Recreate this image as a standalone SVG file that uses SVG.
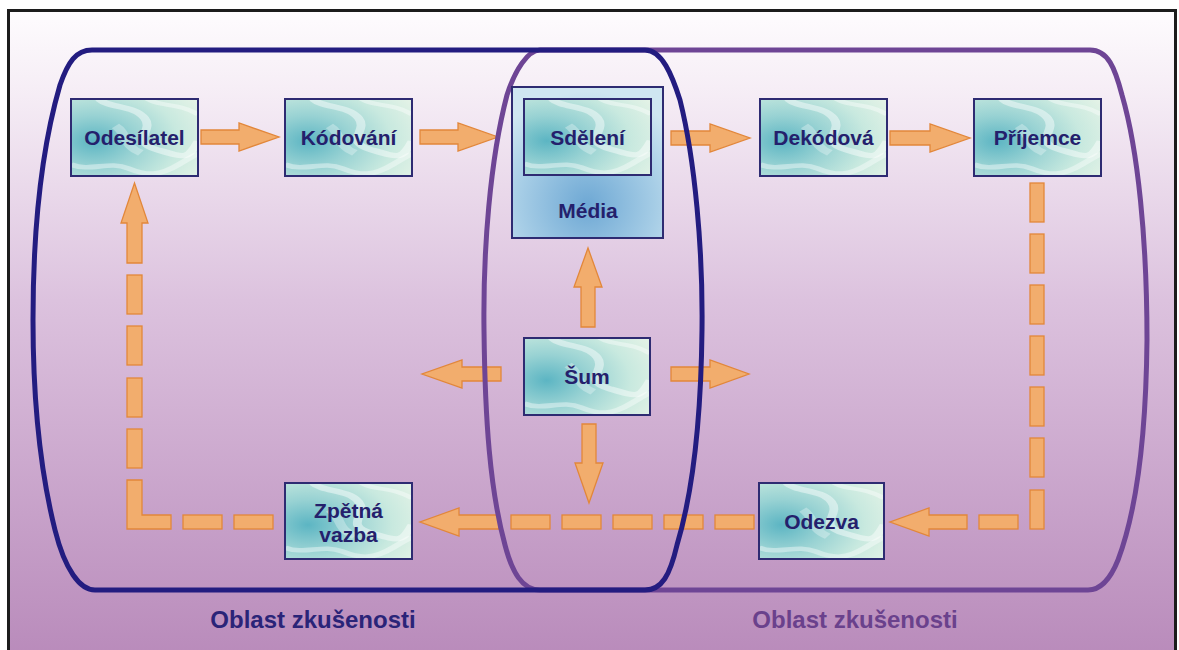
<svg xmlns="http://www.w3.org/2000/svg" width="1179" height="650" viewBox="0 0 1179 650">
  <defs>
    <linearGradient id="bg" x1="0" y1="0" x2="0" y2="1">
      <stop offset="0" stop-color="#fefcfe"/>
      <stop offset="0.12" stop-color="#f6eef6"/>
      <stop offset="0.45" stop-color="#dcc2de"/>
      <stop offset="1" stop-color="#b98bbb"/>
    </linearGradient>
    <radialGradient id="teal" cx="0.18" cy="0.55" r="0.95">
      <stop offset="0" stop-color="#5cb5c3"/>
      <stop offset="0.35" stop-color="#98d2d3"/>
      <stop offset="0.7" stop-color="#c8e9df"/>
      <stop offset="1" stop-color="#e2f2e6"/>
    </radialGradient>
    <pattern id="marble" patternContentUnits="objectBoundingBox" width="1" height="1">
      <rect width="1" height="1" fill="url(#teal)"/>
      <path d="M0.22,0 C0.3,0.12 0.5,0.08 0.58,0.25 S0.45,0.55 0.68,0.66 S0.92,0.78 1,0.55" fill="none" stroke="#ffffff" stroke-opacity="0.45" stroke-width="0.07"/>
      <path d="M0,0.85 C0.15,0.95 0.3,0.8 0.45,0.9 S0.7,1 0.85,0.85 S1,0.7 1,0.75" fill="none" stroke="#ffffff" stroke-opacity="0.4" stroke-width="0.06"/>
      <path d="M0.6,0 C0.7,0.1 0.85,0.05 1,0.2" fill="none" stroke="#ffffff" stroke-opacity="0.4" stroke-width="0.05"/>
      <path d="M0.35,0.35 C0.45,0.45 0.4,0.6 0.55,0.7" fill="none" stroke="#ffffff" stroke-opacity="0.3" stroke-width="0.08"/>
    </pattern>
    <radialGradient id="media" cx="0.5" cy="0.78" r="0.75">
      <stop offset="0" stop-color="#6ea8d4"/>
      <stop offset="0.6" stop-color="#a6cde6"/>
      <stop offset="1" stop-color="#cfe6f1"/>
    </radialGradient>
    <style>
      .box { fill: url(#marble); stroke: #2e2b72; stroke-width: 2; }
      .lbl { font-family: "Liberation Sans", Arial, sans-serif; font-weight: bold; font-size: 21px; fill: #24206c; text-anchor: middle; }
      .area { font-family: "Liberation Sans", Arial, sans-serif; font-weight: bold; font-size: 24px; text-anchor: middle; }
      .arr { fill: #f2ad6d; stroke: #e2873a; stroke-width: 1.3; stroke-linejoin: miter; }
      .navy { fill: none; stroke: #231c80; stroke-width: 5; }
      .purple { fill: none; stroke: #6e4595; stroke-width: 5; }
    </style>
  </defs>

  <!-- background frame -->
  <rect x="8.5" y="10.5" width="1167" height="645" fill="url(#bg)" stroke="#1c1c1c" stroke-width="3"/>

  <!-- connectors -->
  <g id="connectors">
    <polygon class="arr" points="201,130 239,130 239,123 279,137 239,151 239,144 201,144"/>
    <polygon class="arr" points="420,130 458,130 458,123 498,137 458,151 458,144 420,144"/>
    <polygon class="arr" points="671,131 710,131 710,124 750,138 710,152 710,145 671,145"/>
    <polygon class="arr" points="890,131 930,131 930,124 970,138 930,152 930,145 890,145"/>
    <polygon class="arr" points="501,367 462,367 462,360 422,374 462,388 462,381 501,381"/>
    <polygon class="arr" points="671,367 710,367 710,360 749,374 710,388 710,381 671,381"/>
    <polygon class="arr" points="581,327 581,287 574,287 588,248 602,287 595,287 595,327"/>
    <polygon class="arr" points="582,424 582,463 575,463 589,503 603,463 596,463 596,424"/>
    <rect class="arr" x="1030" y="183" width="14" height="39"/>
    <rect class="arr" x="1030" y="234" width="14" height="39"/>
    <rect class="arr" x="1030" y="285" width="14" height="39"/>
    <rect class="arr" x="1030" y="336" width="14" height="39"/>
    <rect class="arr" x="1030" y="387" width="14" height="39"/>
    <rect class="arr" x="1030" y="438" width="14" height="39"/>
    <rect class="arr" x="1030" y="490" width="14" height="39"/>
    <rect class="arr" x="979" y="515" width="39" height="14"/>
    <polygon class="arr" points="967,515 929,515 929,508 890,522 929,536 929,529 967,529"/>
    <rect class="arr" x="715" y="515" width="39" height="14"/>
    <rect class="arr" x="664" y="515" width="39" height="14"/>
    <rect class="arr" x="613" y="515" width="39" height="14"/>
    <rect class="arr" x="562" y="515" width="39" height="14"/>
    <rect class="arr" x="511" y="515" width="39" height="14"/>
    <polygon class="arr" points="499,515 459,515 459,508 420,522 459,536 459,529 499,529"/>
    <rect class="arr" x="234" y="515" width="39" height="14"/>
    <rect class="arr" x="183" y="515" width="39" height="14"/>
    <polygon class="arr" points="127,480 142,480 142,515 171,515 171,529 127,529"/>
    <rect class="arr" x="127" y="429" width="15" height="39"/>
    <rect class="arr" x="127" y="378" width="15" height="39"/>
    <rect class="arr" x="127" y="326" width="15" height="39"/>
    <rect class="arr" x="127" y="275" width="15" height="39"/>
    <polygon class="arr" points="127,263 127,223 121,223 134.5,183 148,223 142,223 142,263"/>
  </g>

  <!-- experience areas -->
  <g id="area-receiver">
    <path class="purple" d="M540,50 C528,50 515,70 507,95 C490,160 483,250 484,330 C485,420 490,490 505,545 C512,572 522,590 540,590 H1088 C1100,590 1110,580 1118,560 C1135,515 1146,440 1147,340 C1147,240 1138,150 1122,95 C1115,68 1108,50 1090,50 Z"/>
    <text class="area" x="855" y="628" fill="#6a418c">Oblast zkušenosti</text>
  </g>
  <g id="area-sender">
    <path class="navy" d="M95,590 C80,590 65,570 55,530 C45,490 33,420 33,320 C33,220 44,140 60,85 C68,62 76,50 92,50 H645 C662,50 672,75 680,100 C695,160 703,250 702,330 C701,420 692,495 677,545 C670,575 662,590 645,590 Z"/>
    <text class="area" x="313" y="628" fill="#2a2478">Oblast zkušenosti</text>
  </g>

  <!-- nodes -->
  <g id="odesilatel">
    <rect class="box" x="71" y="99" width="127" height="77"/>
    <text class="lbl" x="134.5" y="145">Odesílatel</text>
  </g>
  <g id="kodovani">
    <rect class="box" x="285" y="99" width="127" height="77"/>
    <text class="lbl" x="348.5" y="145">Kódování</text>
  </g>
  <g id="media">
    <rect x="512" y="87" width="151" height="151" fill="url(#media)" stroke="#2e2b72" stroke-width="2"/>
    <text class="lbl" x="588" y="218">Média</text>
  </g>
  <g id="sdeleni">
    <rect class="box" x="524" y="99" width="127" height="76"/>
    <text class="lbl" x="587.5" y="145">Sdělení</text>
  </g>
  <g id="dekodova">
    <rect class="box" x="760" y="99" width="127" height="77"/>
    <text class="lbl" x="823.5" y="145">Dekódová</text>
  </g>
  <g id="prijemce">
    <rect class="box" x="974" y="99" width="127" height="77"/>
    <text class="lbl" x="1037.5" y="145">Příjemce</text>
  </g>
  <g id="sum">
    <rect class="box" x="524" y="338" width="126" height="77"/>
    <text class="lbl" x="587" y="384">Šum</text>
  </g>
  <g id="zpetna-vazba">
    <rect class="box" x="285" y="483" width="127" height="76"/>
    <text class="lbl" x="348.5" y="518">Zpětná</text>
    <text class="lbl" x="348.5" y="542">vazba</text>
  </g>
  <g id="odezva">
    <rect class="box" x="759" y="483" width="125" height="76"/>
    <text class="lbl" x="821.5" y="529">Odezva</text>
  </g>
</svg>
